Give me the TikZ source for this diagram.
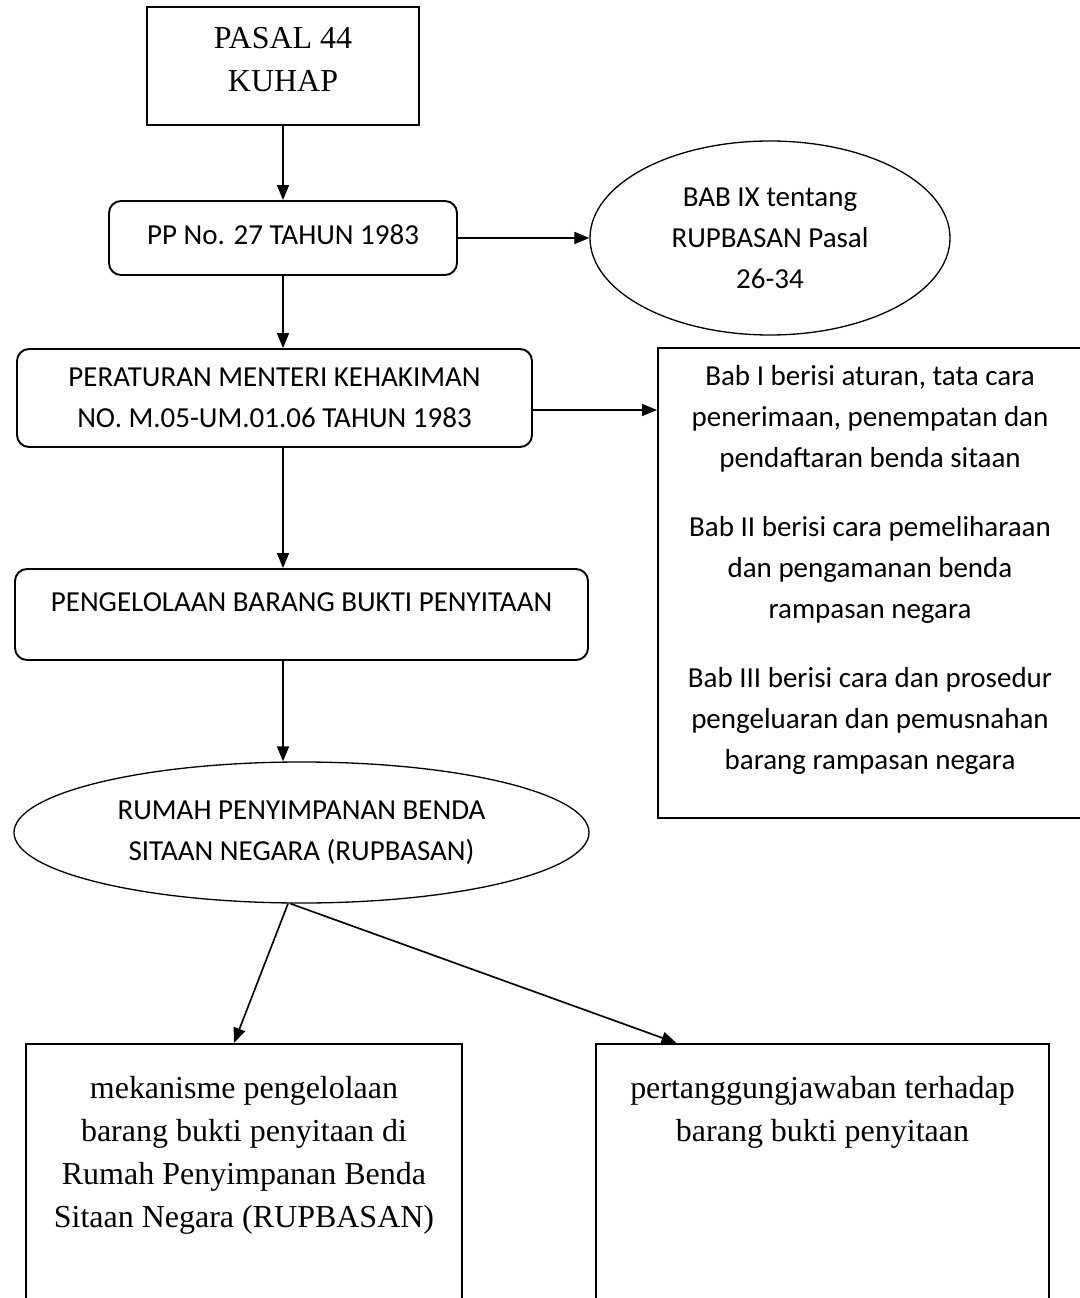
\documentclass[tikz,border=0pt]{standalone}
\usepackage{fontspec}
\setmainfont{Liberation Serif}
\newfontfamily\calibri{Carlito}
\usetikzlibrary{arrows.meta,shapes.geometric,positioning}
\newcommand\sanstext{\calibri\fontsize{16.5}{23.3}\selectfont}
\newcommand\seriftext{\fontsize{18.2}{24.5}\selectfont}

\begin{document}
\begin{tikzpicture}[>={Triangle[length=0.3cm,width=0.24cm]}]
        	\tikzstyle{box} = [draw, line width=1.1pt, align=center, font=\seriftext];
        	\tikzstyle{rbox} = [draw, line width=1.1pt, rounded corners=0.24cm, align=center, font=\sanstext];
        	\tikzstyle{oval} = [draw, ellipse, line width=0.75pt, inner sep=0pt, align=center, font=\sanstext];
        	\tikzstyle{link} = [->, line width=0.95pt];
        	\useasboundingbox (0,0) rectangle (21.6,-25.96);

        	\node[box, minimum width=5.44cm, minimum height=2.36cm, text depth=0.26cm] (pasal) at (5.66,-1.32) {PASAL 44\\KUHAP};
        	\node[rbox, below of=pasal, yshift=-2.44cm, minimum width=6.96cm, minimum height=1.48cm, text depth=0.12cm] (pp) {PP No. 27 TAHUN 1983};
        	\node[oval, right of=pp, xshift=8.74cm, minimum width=7.2cm, minimum height=3.88cm] (bab9) {BAB IX tentang\\RUPBASAN Pasal\\26-34};
        	\node[rbox, below of=pp, xshift=-0.17cm, yshift=-2.2cm, minimum width=10.3cm, minimum height=1.96cm] (permen) {PERATURAN MENTERI KEHAKIMAN\\NO. M.05-UM.01.06 TAHUN 1983};
        	\node[rbox, below of=permen, xshift=0.54cm, yshift=-3.33cm, minimum width=11.46cm, minimum height=1.82cm, text depth=0.48cm] (kelola) {PENGELOLAAN BARANG BUKTI PENYITAAN};
        	\node[oval, below of=kelola, yshift=-3.36cm, minimum width=11.5cm, minimum height=2.82cm] (rumah) {RUMAH PENYIMPANAN BENDA\\SITAAN NEGARA (RUPBASAN)};
        	\node[box, right of=permen, xshift=10.91cm, yshift=-3.7cm, minimum width=8.48cm, minimum height=9.4cm, font=\sanstext, text depth=0.62cm] (isi) {Bab I berisi aturan, tata cara\\penerimaan, penempatan dan\\pendaftaran benda sitaan\\[0.56cm]Bab II berisi cara pemeliharaan\\dan pengamanan benda\\rampasan negara\\[0.56cm]Bab III berisi cara dan prosedur\\pengeluaran dan pemusnahan\\barang rampasan negara};
        	\node[box, below of=rumah, anchor=north, xshift=-1.15cm, yshift=-3.21cm, minimum width=8.72cm, inner ysep=0.64cm, text depth=1.2cm] (mek) {mekanisme pengelolaan\\barang bukti penyitaan di\\Rumah Penyimpanan Benda\\Sitaan Negara (RUPBASAN)};
        	\node[box, below of=rumah, anchor=north, xshift=10.42cm, yshift=-3.21cm, minimum width=9.06cm, inner ysep=0.64cm, text depth=3cm] (tang) {pertanggungjawaban terhadap\\barang bukti penyitaan};

            \draw[link] (pasal) -- (pp);
            \draw[link] (pp) -- (bab9);
            \draw[link] (pp) -- (pp |- permen.north);
            \draw[link] (permen.south -| pp) -- (pp |- kelola.north);
            \draw[link] (kelola.south -| pp) -- (pp |- rumah.north);
            \draw[link] ([yshift=-0.24cm]permen.east) -- ([yshift=-0.24cm]permen.east -| isi.west);
            \draw[link] ([xshift=-0.27cm]rumah.south) -- ([xshift=-0.2cm]mek.north);
            \draw[link] ([xshift=-0.22cm]rumah.south) -- ([xshift=-2.92cm]tang.north);
    	\end{tikzpicture}
\end{document}
